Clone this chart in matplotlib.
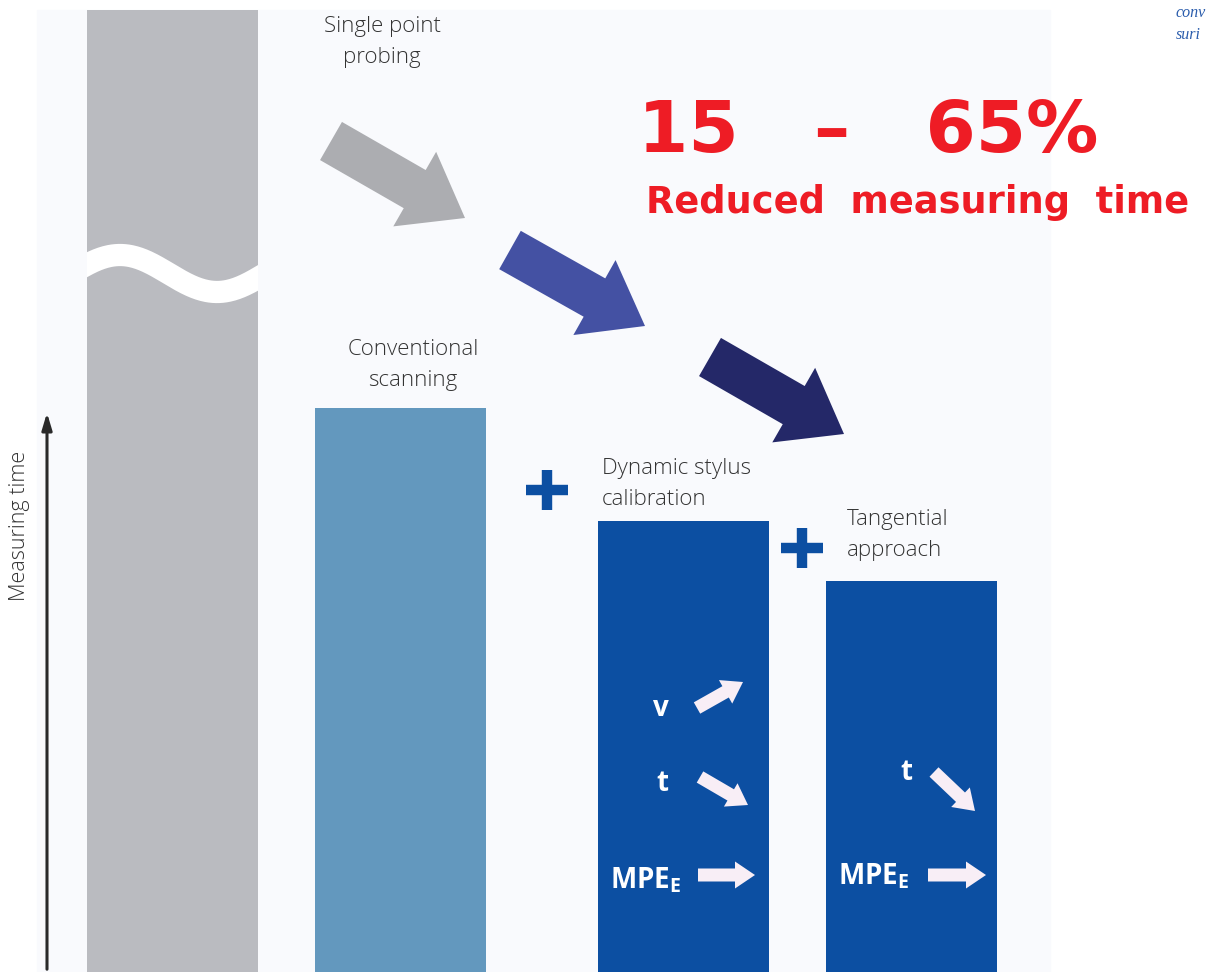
import numpy as np
import matplotlib
matplotlib.use("Agg")
import matplotlib.pyplot as plt
from matplotlib.patches import Rectangle, FancyArrow

plt.rcParams['mathtext.fontset'] = 'custom'
plt.rcParams['mathtext.rm'] = 'Open Sans'
plt.rcParams['mathtext.bf'] = 'Open Sans:bold'

# --- data (measuring time, arbitrary units; first bar is broken) ---
categories = ["Single point\nprobing", "Conventional\nscanning",
              "Dynamic stylus\ncalibration", "Tangential\napproach"]
times = [962, 564, 451, 391]
bar_x = [172.5, 400, 683.5, 911.5]
bar_colors = ["#babbc0", "#6398be", "#0c4fa2", "#0c4fa2"]

H = 972  # pixel height, used to place layout items (y down)
def py(y):
    return H - y

fig = plt.figure(figsize=(12.08, 9.72), dpi=100)
ax = fig.add_axes([0, 0, 1, 1])
ax.set_xlim(0, 1208); ax.set_ylim(0, H); ax.axis("off")

ax.add_patch(Rectangle((37, 0), 1013, py(10), color="#f9fafd", zorder=0))
bars = ax.bar(bar_x, times, width=171, color=bar_colors, zorder=2)

# break in the first bar
xw = np.linspace(70, 272, 200)
yw = 273.5 - 18.5 * np.cos(2 * np.pi * (xw - 120) / 194)
wave, = ax.plot(xw, py(yw), color="white", lw=16, solid_capstyle="butt", zorder=3)
wave.set_clip_path(bars[0])

# measuring time axis
ax.annotate("", xy=(47, py(410)), xytext=(47, 0),
            arrowprops=dict(arrowstyle="-|>,head_width=0.3,head_length=1.0",
                            color="#2a2a2a", lw=2.2), zorder=4)
ax.text(20, py(526), "Measuring time", rotation=90, ha="center", va="center",
        family="Open Sans", fontweight="light", fontsize=15.5, color="#333333")

# category labels
lab = dict(family="Open Sans", fontweight="light", fontsize=16, color="#333333",
           linespacing=1.65)
ax.text(382, py(42), categories[0], ha="center", va="center", **lab)
ax.text(413, py(365), categories[1], ha="center", va="center", **lab)
ax.text(602, py(484), categories[2], ha="left", va="center", **lab)
ax.text(847, py(535), categories[3], ha="left", va="center", **lab)

# big step arrows
for (x0, y0, x1, y1), c in zip([(331, 141, 465, 218), (510, 250, 645, 326), (710, 357, 844, 434)],
                               ["#acadb1", "#4451a3", "#242868"]):
    ax.add_patch(FancyArrow(x0, py(y0), x1 - x0, py(y1) - py(y0), width=44, head_width=86,
                            head_length=58, length_includes_head=True, color=c, lw=0, zorder=3))

# plus signs
for cx, cy in [(547, 490), (802, 548)]:
    ax.plot([cx - 21, cx + 21], [py(cy), py(cy)], color="#0c4fa2", lw=7.5, solid_capstyle="butt")
    ax.plot([cx, cx], [py(cy - 20), py(cy + 20)], color="#0c4fa2", lw=7.5, solid_capstyle="butt")

# small arrows and symbols inside the bars
wt = dict(color="white", family="Open Sans", fontweight="bold", fontsize=20, zorder=5)
ax.text(661, py(708), "v", ha="center", va="center", **wt)
ax.text(662, py(783), "t", ha="center", va="center", **wt)
ax.text(610, py(880), r"MPE$_\mathbf{E}$", ha="left", va="center", **wt)
ax.text(906, py(772), "t", ha="center", va="center", **wt)
ax.text(838, py(876), r"MPE$_\mathbf{E}$", ha="left", va="center", **wt)
for x0, y0, x1, y1 in [(697, 708, 743, 682), (700, 777, 748, 805), (698, 875, 755, 875),
                       (934, 772, 975, 811), (928, 875, 986, 875)]:
    ax.add_patch(FancyArrow(x0, py(y0), x1 - x0, py(y1) - py(y0), width=13, head_width=27,
                            head_length=20, length_includes_head=True, color="#f8eef6",
                            lw=0, zorder=5))

# headline
ax.text(638, py(152), "15   –   65%", ha="left", va="baseline", family="DejaVu Sans",
        fontweight="bold", fontsize=52, color="#ee1c25")
ax.text(646, py(213), "Reduced  measuring  time", ha="left", va="baseline",
        family="DejaVu Sans", fontweight="bold", fontsize=26.5, color="#ee1c25")

# clipped caption at the top right
ax.text(1176, py(13), "conv", ha="left", va="center", family="Liberation Serif",
        style="italic", fontsize=11.5, color="#2a5cac")
ax.text(1176, py(35), "suri", ha="left", va="center", family="Liberation Serif",
        style="italic", fontsize=11.5, color="#2a5cac")

fig.savefig("out.png", dpi=100)
